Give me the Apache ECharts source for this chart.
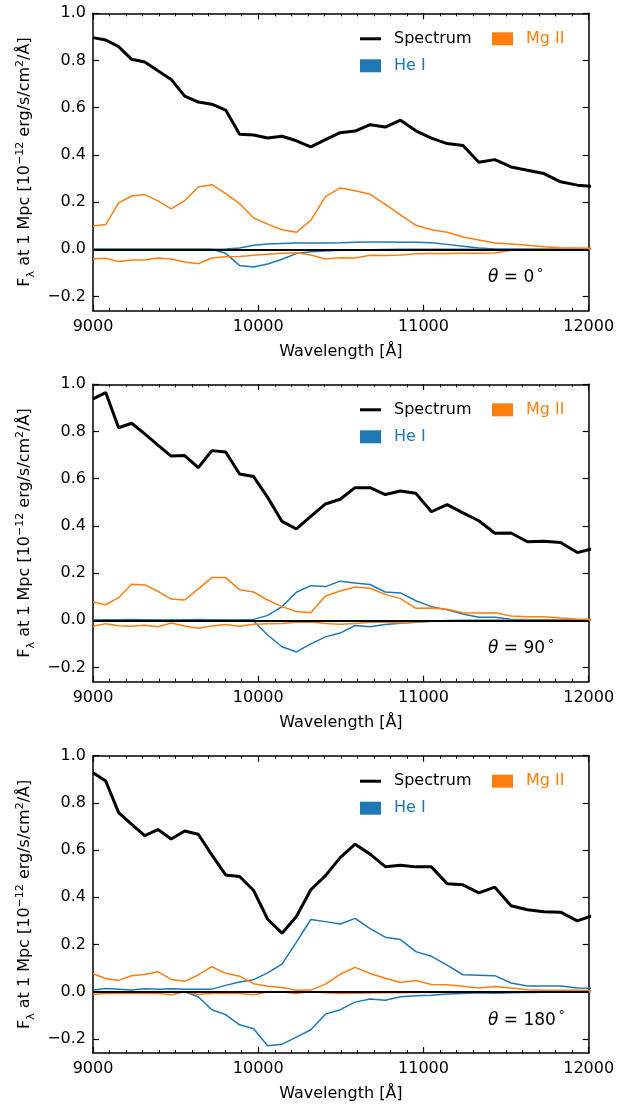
<!DOCTYPE html>
<html><head><meta charset="utf-8">
<script src="https://cdn.jsdelivr.net/npm/echarts@6/dist/echarts.min.js"></script>
<style>html,body{margin:0;padding:0;background:#fff}#c{width:634px;height:1111px}</style>
</head><body><div id="c"></div>
<script>
const wavelength = [9000,9077,9155,9234,9313,9393,9473,9555,9637,9719,9803,9887,9972,10057,10144,10231,10318,10407,10496,10586,10677,10769,10861,10954,11048,11143,11239,11335,11432,11530,11629,11729,11830,11931,12034];

const spec0  = [0.897,0.887,0.859,0.805,0.794,0.757,0.72,0.649,0.624,0.615,0.59,0.488,0.484,0.472,0.479,0.46,0.434,0.465,0.494,0.501,0.528,0.518,0.547,0.502,0.471,0.448,0.44,0.369,0.38,0.349,0.335,0.321,0.286,0.272,0.266];
const mg0pos = [0.099,0.105,0.197,0.226,0.232,0.205,0.171,0.206,0.264,0.274,0.236,0.194,0.133,0.107,0.083,0.072,0.123,0.223,0.26,0.248,0.233,0.19,0.146,0.102,0.083,0.072,0.052,0.04,0.027,0.023,0.017,0.011,0.007,0.006,0.004];
const mg0neg = [-0.04,-0.038,-0.052,-0.045,-0.045,-0.037,-0.041,-0.054,-0.061,-0.037,-0.031,-0.03,-0.025,-0.021,-0.017,-0.014,-0.024,-0.041,-0.036,-0.037,-0.025,-0.026,-0.024,-0.019,-0.018,-0.018,-0.017,-0.017,-0.016,-0.004,-0.001,0,0,0,0];
const he0pos = [0,0,0,0,0,0,0,0,0,0,0.001,0.006,0.017,0.023,0.025,0.027,0.027,0.027,0.028,0.03,0.031,0.031,0.03,0.03,0.028,0.021,0.013,0.006,0.001,0,0,0,0,0,0];
const he0neg = [0,0,0,0,0,0,0,0,0,0,-0.017,-0.068,-0.075,-0.062,-0.042,-0.018,-0.01,-0.007,-0.004,-0.003,-0.002,-0.001,0,0,0,0,0,0,0,0,0,0,0,0,0];

const spec90  = [0.938,0.965,0.816,0.835,0.79,0.742,0.696,0.698,0.647,0.719,0.713,0.62,0.609,0.521,0.419,0.387,0.44,0.493,0.513,0.562,0.562,0.533,0.548,0.538,0.46,0.49,0.455,0.422,0.369,0.37,0.333,0.335,0.33,0.287,0.305];
const mg90pos = [0.078,0.066,0.096,0.153,0.15,0.123,0.09,0.086,0.133,0.181,0.181,0.13,0.12,0.086,0.058,0.037,0.032,0.103,0.124,0.141,0.136,0.11,0.092,0.051,0.052,0.047,0.032,0.031,0.032,0.018,0.015,0.015,0.01,0.006,0.004];
const mg90neg = [-0.025,-0.014,-0.023,-0.025,-0.021,-0.027,-0.011,-0.024,-0.034,-0.024,-0.018,-0.025,-0.017,-0.014,-0.013,-0.008,-0.007,-0.013,-0.017,-0.013,-0.008,-0.007,-0.011,-0.007,-0.004,-0.003,-0.002,-0.002,-0.001,-0.001,0,0,0,0,0];
const he90pos = [0.001,0.002,0.002,0.003,0.002,0.001,0.001,0.002,0.003,0.002,0.001,0.002,0.004,0.021,0.058,0.119,0.147,0.143,0.166,0.158,0.152,0.12,0.116,0.083,0.058,0.045,0.027,0.013,0.013,0.005,0.003,0.002,0.001,0,0];
const he90neg = [0,0,0,0,0,0,0,0,0,0,0,0,-0.003,-0.062,-0.112,-0.134,-0.1,-0.07,-0.054,-0.022,-0.027,-0.018,-0.012,-0.008,-0.004,-0.001,0,0,0,0,0,0,0,0,0];

const spec180  = [0.928,0.893,0.759,0.709,0.661,0.687,0.647,0.681,0.667,0.58,0.495,0.488,0.429,0.307,0.248,0.319,0.432,0.492,0.568,0.625,0.583,0.53,0.536,0.529,0.529,0.458,0.453,0.419,0.443,0.364,0.347,0.339,0.337,0.3,0.325];
const mg180pos = [0.076,0.056,0.048,0.068,0.073,0.085,0.052,0.044,0.071,0.106,0.078,0.066,0.034,0.023,0.018,0.006,0.007,0.032,0.074,0.103,0.077,0.057,0.039,0.048,0.031,0.03,0.023,0.016,0.022,0.016,0.008,0.006,0.006,0.006,0.005];
const mg180neg = [-0.011,-0.007,-0.007,-0.008,-0.008,-0.007,-0.013,-0.001,-0.011,-0.007,-0.006,-0.007,-0.013,-0.001,-0.001,-0.008,0.001,-0.004,-0.007,-0.006,-0.005,-0.004,-0.004,-0.003,-0.003,-0.002,-0.002,-0.002,-0.001,-0.001,0,0,0,0,0];
const he180pos = [0.007,0.014,0.011,0.007,0.013,0.011,0.013,0.011,0.01,0.011,0.027,0.041,0.051,0.08,0.117,0.21,0.306,0.297,0.287,0.311,0.267,0.231,0.221,0.17,0.15,0.113,0.072,0.07,0.068,0.037,0.024,0.024,0.024,0.016,0.014];
const he180neg = [0,0,0,0,0,0,0,0,-0.021,-0.076,-0.097,-0.14,-0.157,-0.229,-0.222,-0.192,-0.161,-0.095,-0.076,-0.044,-0.031,-0.036,-0.021,-0.017,-0.015,-0.01,-0.008,-0.004,-0.006,-0.004,-0.003,-0.002,-0.002,-0.001,0];

const angles = ['0', '90', '180'];
const yTicks = [-0.2, 0, 0.2, 0.4, 0.6, 0.8, 1.0];

const panels = [
  {spec: spec0, mgPos: mg0pos, mgNeg: mg0neg, hePos: he0pos, heNeg: he0neg},
  {spec: spec90, mgPos: mg90pos, mgNeg: mg90neg, hePos: he90pos, heNeg: he90neg},
  {spec: spec180, mgPos: mg180pos, mgNeg: mg180neg, hePos: he180pos, heNeg: he180neg}
];

const BLUE = '#1f77b4', ORANGE = '#ff7f0e', FONT = 'DejaVu Sans';
const tops = [13.3, 384.3, 755.7];
const H = 297.4;

function pts(arr) { return wavelength.map((w, i) => [w, arr[i]]); }
function fmtY(v) { return v < 0 ? '\u2212' + Math.abs(v).toFixed(1) : v.toFixed(1); }

const grid = [], xAxis = [], yAxis = [], series = [], legend = [], graphic = [];
panels.forEach((p, k) => {
  grid.push({left: 93, right: 45.3, top: tops[k], height: H, containLabel: false});
  const axLine = {show: true, onZero: false, lineStyle: {color: '#000', width: 1.5}};
  ['bottom', 'top'].forEach((pos, j) => {
    xAxis.push({
      type: 'value', gridIndex: k, position: pos, min: 9000, max: 12000, interval: 1000,
      axisLine: axLine,
      axisTick: {show: true, inside: true, length: 6, lineStyle: {color: '#000', width: 1.2}},
      minorTick: {show: true, splitNumber: 10, length: 3, lineStyle: {color: '#000', width: 1}},
      splitLine: {show: false}, minorSplitLine: {show: false},
      axisLabel: {show: j === 0, formatter: v => String(v), color: '#000', fontSize: 16, fontFamily: FONT, margin: 8, showMinLabel: true, showMaxLabel: true},
      name: j === 0 ? 'Wavelength [\u00c5]' : '', nameLocation: 'middle', nameGap: 33,
      nameTextStyle: {color: '#000', fontSize: 16, fontFamily: FONT}
    });
  });
  ['left', 'right'].forEach((pos, j) => {
    yAxis.push({
      type: 'value', gridIndex: k, position: pos, min: -0.26, max: 1.0,
      axisLine: axLine,
      axisTick: {show: true, inside: true, length: 6, customValues: yTicks, lineStyle: {color: '#000', width: 1.2}},
      splitLine: {show: false},
      axisLabel: {show: j === 0, customValues: yTicks, formatter: fmtY, color: '#000', fontSize: 16, fontFamily: FONT, margin: 7},
      name: j === 0 ? '{a|F}{s|\u03bb}{a| at 1 Mpc [10}{p|\u221212}{a| erg/s/cm}{p|2}{a|/\u00c5]}' : '',
      nameLocation: 'middle', nameRotate: 90, nameGap: 56,
      nameTextStyle: {
        color: '#000', fontFamily: FONT, fontSize: 16,
        rich: {
          a: {fontSize: 16, fontFamily: FONT, color: '#000', lineHeight: 22},
          s: {fontSize: 11, fontFamily: FONT, color: '#000', lineHeight: 13, verticalAlign: 'bottom'},
          p: {fontSize: 11, fontFamily: FONT, color: '#000', lineHeight: 13, verticalAlign: 'top'}
        }
      }
    });
  });
  const xi = 2 * k, yi = 2 * k;
  const base = {type: 'line', xAxisIndex: xi, yAxisIndex: yi, showSymbol: false, symbol: 'none', animation: false, silent: true};
  series.push(Object.assign({}, base, {name: 'He I', data: pts(p.hePos), lineStyle: {color: BLUE, width: 1.5}, itemStyle: {color: BLUE}}));
  series.push(Object.assign({}, base, {name: 'He I', data: pts(p.heNeg), lineStyle: {color: BLUE, width: 1.5}, itemStyle: {color: BLUE}}));
  series.push(Object.assign({}, base, {name: 'Mg II', data: pts(p.mgPos), lineStyle: {color: ORANGE, width: 1.5}, itemStyle: {color: ORANGE}}));
  series.push(Object.assign({}, base, {name: 'Mg II', data: pts(p.mgNeg), lineStyle: {color: ORANGE, width: 1.5}, itemStyle: {color: ORANGE}}));
  series.push(Object.assign({}, base, {
    name: 'Spectrum', data: pts(p.spec), lineStyle: {color: '#000', width: 3}, itemStyle: {color: '#000'},
    markLine: {silent: true, symbol: 'none', animation: false, label: {show: false},
      lineStyle: {color: '#000', width: 2, type: 'solid'}, data: [{yAxis: 0}]}
  }));
  const lt = {color: '#000', fontSize: 16, fontFamily: FONT, padding: [0, 0, 0, 8]};
  legend.push({
    left: 360, top: tops[k] + 17.5, padding: 0, itemWidth: 21, itemHeight: 3,
    selectedMode: false, textStyle: lt,
    data: [{name: 'Spectrum', icon: 'rect', textStyle: {color: '#000'}}]
  });
  legend.push({
    left: 492, top: tops[k] + 17.5, padding: 0, itemWidth: 21, itemHeight: 13,
    selectedMode: false, textStyle: lt,
    data: [{name: 'Mg II', icon: 'rect', textStyle: {color: ORANGE}}]
  });
  legend.push({
    left: 360, top: tops[k] + 44.5, padding: 0, itemWidth: 21, itemHeight: 13,
    selectedMode: false, textStyle: lt,
    data: [{name: 'He I', icon: 'rect', textStyle: {color: BLUE}}]
  });
  graphic.push({
    type: 'text', left: 488, top: tops[k] + H - 44,
    style: {
      text: '{i|\u03b8}{n| = ' + angles[k] + '}{d|\u2009\u00b0}',
      rich: {
        i: {fontSize: 17, fontFamily: FONT, fontStyle: 'italic', fill: '#000', lineHeight: 22},
        n: {fontSize: 17, fontFamily: FONT, fill: '#000', lineHeight: 22},
        d: {fontSize: 13, fontFamily: FONT, fill: '#000', lineHeight: 14, verticalAlign: 'top'}
      }
    }
  });
});

const chart = echarts.init(document.getElementById('c'), null, {renderer: 'canvas'});
chart.setOption({backgroundColor: '#fff', animation: false, grid, xAxis, yAxis, series, legend, graphic});
</script></body></html>
